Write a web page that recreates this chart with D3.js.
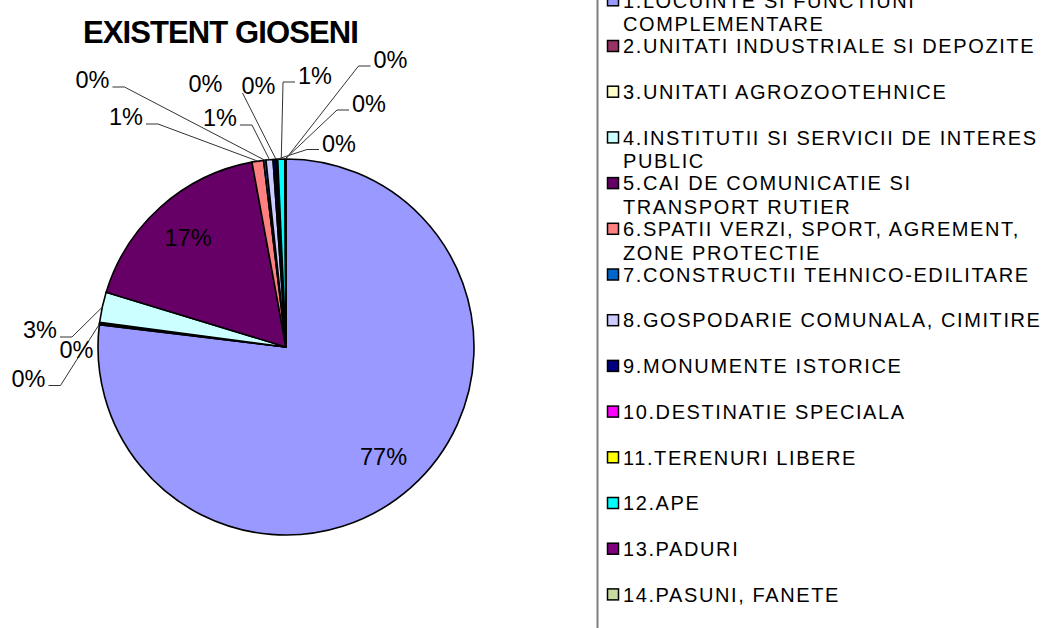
<!DOCTYPE html>
<html><head><meta charset="utf-8">
<script src="https://cdn.jsdelivr.net/npm/d3@7"></script>
<style>html,body{margin:0;padding:0;background:#fff;overflow:hidden}</style>
</head><body>
<svg id="chart" width="1052" height="628"></svg>
<script>
const title = "EXISTENT GIOSENI";
const categories = [
  "1.LOCUINTE SI FUNCTIUNI\nCOMPLEMENTARE",
  "2.UNITATI INDUSTRIALE SI DEPOZITE",
  "3.UNITATI AGROZOOTEHNICE",
  "4.INSTITUTII SI SERVICII DE INTERES\nPUBLIC",
  "5.CAI DE COMUNICATIE SI\nTRANSPORT RUTIER",
  "6.SPATII VERZI, SPORT, AGREMENT,\nZONE PROTECTIE",
  "7.CONSTRUCTII TEHNICO-EDILITARE",
  "8.GOSPODARIE COMUNALA, CIMITIRE",
  "9.MONUMENTE ISTORICE",
  "10.DESTINATIE SPECIALA",
  "11.TERENURI LIBERE",
  "12.APE",
  "13.PADURI",
  "14.PASUNI, FANETE"
];
const values = [76.9, 0.1, 0.1, 2.6, 17.4, 1.0, 0.2, 0.6, 0.2, 0.1, 0.1, 0.6, 0.05, 0.05];
const colors = ["#9999FF","#993366","#FFFFCC","#CCFFFF","#660066","#FF8080","#0066CC",
                "#CCCCFF","#000080","#FF00FF","#FFFF00","#00FFFF","#800080","#C8DCA0"];
// Excel's label layout: text centre and which side the leader line leaves from
const labelPlacement = [
  null,
  {at:[28.5,378.5], leader:"right"},
  {at:[76.5,350], leader:null},
  {at:[40,330], leader:"right"},
  null,
  {at:[126,117], leader:"right"},
  {at:[92.5,80], leader:"right"},
  {at:[220,118], leader:"right"},
  {at:[205.5,83.5], leader:null},
  {at:[258.5,86], leader:"corner"},
  {at:[339,143.5], leader:"left"},
  {at:[315,76], leader:"left"},
  {at:[369,104], leader:"left"},
  {at:[390.5,60], leader:"left"}
];

const FONT = "'Liberation Sans', Arial, Helvetica, sans-serif";
const svg = d3.select("#chart");
const cx = 286, cy = 347, R = 188;
const total = d3.sum(values);
const fmt = d3.format(".0%");

// title
svg.append("text")
  .attr("x", 220.5).attr("y", 43)
  .attr("text-anchor", "middle")
  .style("font-family", FONT).style("font-weight", "bold")
  .style("font-size", "31px").style("letter-spacing", "-0.9px")
  .text(title);

const pie = d3.pie().sort(null).value(d => d);
const arcs = pie(values);
const arc = d3.arc().innerRadius(0).outerRadius(R);
const g = svg.append("g").attr("transform", `translate(${cx},${cy})`);

g.selectAll("path.slice").data(arcs).enter().append("path")
  .attr("class", "slice")
  .attr("d", arc)
  .attr("fill", (d, i) => colors[i])
  .attr("stroke", "#000").attr("stroke-width", 1.6)
  .attr("stroke-linejoin", "round");

const LFS = 23.5, CAP = 0.716 * LFS;
const labelG = svg.append("g");
arcs.forEach((d, i) => {
  const txt = fmt(values[i] / total);
  const p = labelPlacement[i];
  const mid = (d.startAngle + d.endAngle) / 2;
  if (!p) {
    const r = 147;
    const x = cx + r * Math.sin(mid), y = cy - r * Math.cos(mid);
    labelG.append("text").attr("x", x).attr("y", y + CAP / 2)
      .attr("text-anchor", "middle")
      .style("font-family", FONT).style("font-size", LFS + "px")
      .text(txt);
    return;
  }
  const t = labelG.append("text").attr("x", p.at[0]).attr("y", p.at[1] + CAP / 2)
    .attr("text-anchor", "middle")
    .style("font-family", FONT).style("font-size", LFS + "px")
    .text(txt);
  const w = t.node().getComputedTextLength();
  if (!p.leader) return;
  const end = [cx + R * Math.sin(mid), cy - R * Math.cos(mid)];
  let pts;
  if (p.leader === "right") {
    const s = [p.at[0] + w / 2 + 3, p.at[1] + 7];
    pts = [s, [s[0] + 12, s[1]], end];
  } else if (p.leader === "left") {
    const s = [p.at[0] - w / 2 - 3, p.at[1] + 6];
    pts = [s, [s[0] - 12, s[1]], end];
  } else {
    const s = [p.at[0] - w / 2 + 1, p.at[1] + 7];
    pts = [s, end];
  }
  labelG.insert("path", ":first-child")
    .attr("d", d3.line()(pts))
    .attr("fill", "none").attr("stroke", "#333").attr("stroke-width", 1);
});

// legend
svg.append("line").attr("x1", 597.5).attr("x2", 597.5).attr("y1", 0).attr("y2", 628)
  .attr("stroke", "#808080").attr("stroke-width", 2);
const ly = d3.scaleLinear().domain([0, categories.length - 1]).range([0.3, 594.4]);
const leg = svg.append("g");
categories.forEach((c, i) => {
  const y = ly(i);
  leg.append("rect").attr("x", 607.5).attr("y", y - 5.5).attr("width", 11).attr("height", 11)
    .attr("fill", colors[i]).attr("stroke", "#000").attr("stroke-width", 1.5);
  const lines = c.split("\n");
  const t = leg.append("text")
    .style("font-family", FONT).style("font-size", "20px").style("letter-spacing", "1.6px");
  lines.forEach((ln, k) => {
    t.append("tspan").attr("x", 623).attr("y", y + 7.2 + k * 23.5).text(ln);
  });
});
</script>
</body></html>
